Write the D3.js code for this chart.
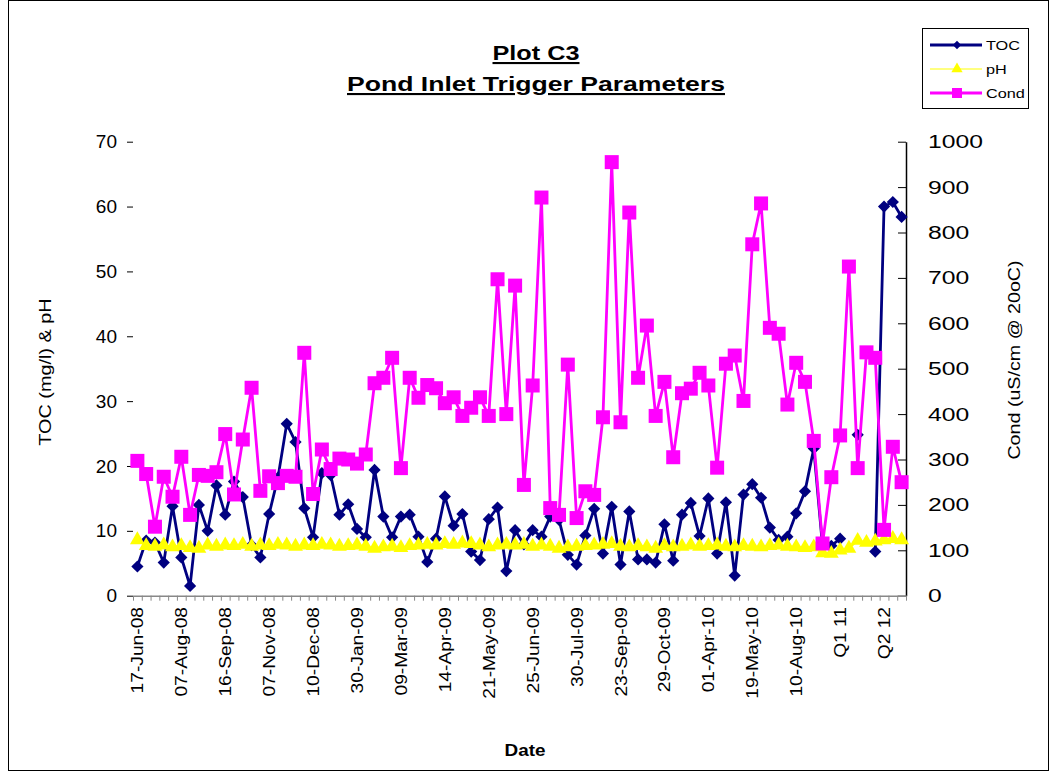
<!DOCTYPE html>
<html>
<head>
<meta charset="utf-8">
<script src="https://cdn.jsdelivr.net/npm/d3@7"></script>
<style>
  body { margin: 0; background: #fff; }
  svg { display: block; font-family: "Liberation Sans", Arial, sans-serif; }
</style>
</head>
<body>
<svg id="chart" width="1056" height="772"></svg>
<script>
// labels shown on the date axis (one every 5 samples)
const tickLabels = ["17-Jun-08","07-Aug-08","16-Sep-08","07-Nov-08","10-Dec-08","30-Jan-09",
  "09-Mar-09","14-Apr-09","21-May-09","25-Jun-09","30-Jul-09","23-Sep-09","29-Oct-09",
  "01-Apr-10","19-May-10","10-Aug-10","Q1 11","Q2 12"]
const labelStep = 5

// TOC (mg/l), left axis
const toc = [4.5,8.5,8.2,5.1,13.8,5.9,1.5,14.0,10.0,17.0,12.5,17.6,15.2,7.8,5.9,12.6,18.2,26.5,23.7,13.5,
  9.0,18.9,18.6,12.5,14.1,10.3,9.0,19.4,12.2,9.0,12.2,12.5,9.1,5.2,8.8,15.3,10.8,12.6,6.8,5.5,
  11.8,13.6,3.8,10.1,7.9,10.1,9.1,12.2,11.7,6.3,4.8,9.3,13.4,6.5,13.7,4.8,13.0,5.6,5.6,5.1,
  11.0,5.4,12.5,14.3,9.2,15.0,6.5,14.4,3.1,15.6,17.2,15.1,10.5,8.6,9.1,12.7,16.1,22.7,7.6,7.7,
  8.8,null,24.8,null,6.8,60.0,60.7,58.4]

// pH, left axis
const ph = [8.6,7.7,7.6,7.8,7.5,7.7,7.4,7.3,7.8,7.6,7.8,7.7,7.9,7.6,7.8,7.7,7.9,7.8,7.6,7.8,
  7.7,7.9,7.8,7.6,7.7,7.8,7.6,7.3,7.5,7.6,7.4,7.7,7.8,7.9,7.8,8.0,7.9,8.1,8.0,7.8,
  7.5,7.8,7.9,7.8,7.9,7.6,7.8,7.6,7.3,7.5,7.6,7.7,7.8,7.9,8.0,7.6,7.5,7.7,7.5,7.3,
  7.7,7.5,7.6,7.8,7.6,7.7,7.8,7.6,7.5,7.7,7.6,7.5,7.7,7.8,7.6,7.5,7.4,7.5,6.6,6.5,
  7.0,7.3,8.5,8.2,8.4,8.6,8.8,8.6]

// conductivity (uS/cm @ 20oC), right axis
const cond = [297,268,152,262,218,306,178,266,264,272,356,223,344,458,231,263,248,264,262,535,
  224,322,279,302,300,291,311,468,480,524,281,480,436,464,457,424,437,396,414,437,
  396,697,400,683,244,463,877,193,178,509,171,230,222,393,955,382,844,480,595,396,
  471,305,446,456,491,463,282,511,529,429,774,864,590,577,421,513,471,341,115,261,
  353,725,281,536,524,145,328,250]

const leftTicks = [0,10,20,30,40,50,60,70]
const rightTicks = [0,100,200,300,400,500,600,700,800,900,1000]

const width = 1056, height = 772
const plotLeft = 133, plotRight = 906, plotTop = 141.7, plotBottom = 595.7
const n = cond.length

const svg = d3.select("#chart")

// outer frame
svg.append("rect").attr("x", 8.5).attr("y", 0.5).attr("width", 1040).attr("height", 770)
  .attr("fill", "#fff").attr("stroke", "#000").attr("stroke-width", 1)

const x = d3.scaleBand().domain(d3.range(n)).range([plotLeft, plotRight])
const xEdge = d3.scaleLinear().domain([0, n]).range([plotLeft, plotRight])
const yL = d3.scaleLinear().domain([0, 70]).range([plotBottom, plotTop])
const yR = d3.scaleLinear().domain([0, 1000]).range([plotBottom, plotTop])
const cx = i => x(i) + x.bandwidth() / 2

// titles (the original font is wide, so stretch the glyphs)
svg.append("text").attr("x", 536).attr("y", 60).attr("text-anchor", "middle")
  .attr("font-size", 21).attr("font-weight", "bold").attr("text-decoration", "underline")
  .attr("textLength", 87).attr("lengthAdjust", "spacingAndGlyphs")
  .text("Plot C3")
svg.append("text").attr("x", 536).attr("y", 91).attr("text-anchor", "middle")
  .attr("font-size", 21).attr("font-weight", "bold").attr("text-decoration", "underline")
  .attr("textLength", 378).attr("lengthAdjust", "spacingAndGlyphs")
  .text("Pond Inlet Trigger Parameters")

// left axis (no line, outward ticks)
const gL = svg.append("g").attr("transform", `translate(${plotLeft},0)`)
  .call(d3.axisLeft(yL).tickValues(leftTicks).tickSize(6).tickPadding(10))
gL.select(".domain").remove()
gL.selectAll("text").attr("font-size", 19).attr("font-family", "Liberation Sans, Arial")
gL.selectAll("line").attr("stroke", "#000")

// right axis (line, inward ticks)
const gR = svg.append("g").attr("transform", `translate(${plotRight},0)`)
  .call(d3.axisRight(yR).tickValues(rightTicks).tickFormat(d3.format("d"))
    .tickSizeInner(-8).tickSizeOuter(0).tickPadding(22))
gR.select(".domain").attr("stroke", "#000").attr("stroke-width", 1.5)
gR.selectAll("text").attr("font-size", 19).attr("font-family", "Liberation Sans, Arial")
  .attr("transform", "translate(22,0) scale(1.3,1) translate(-22,0)")
gR.selectAll("line").attr("stroke", "#000")

// bottom axis: ticks between categories
const gB = svg.append("g").attr("transform", `translate(0,${plotBottom})`)
  .call(d3.axisBottom(xEdge).tickValues(d3.range(n + 1)).tickSizeInner(5).tickSizeOuter(0).tickFormat(""))
gB.select(".domain").attr("stroke", "#888").attr("stroke-width", 1.5)
gB.selectAll("line").attr("stroke", "#888")

// date labels
svg.append("g").selectAll("text").data(tickLabels).join("text")
  .attr("transform", (d, i) => `translate(${cx(i * labelStep) + 6},607) rotate(-90) scale(1.2,1)`)
  .attr("text-anchor", "end").attr("font-size", 16).text(d => d)

// axis titles
svg.append("text").attr("transform", "translate(51,372) rotate(-90) scale(1.24,1)").attr("text-anchor", "middle")
  .attr("font-size", 16).text("TOC (mg/l) & pH")
svg.append("text").attr("transform", "translate(1020,360) rotate(-90) scale(1.23,1)").attr("text-anchor", "middle")
  .attr("font-size", 16).text("Cond (uS/cm @ 20oC)")
svg.append("text").attr("transform", "translate(525,756) scale(1.18,1)").attr("text-anchor", "middle")
  .attr("font-size", 16).attr("font-weight", "bold").text("Date")

// series
const diamond = d3.symbol().type(d3.symbolDiamond2).size(95)
const tri = d3.symbol().type(d3.symbolTriangle).size(95)

const tocLine = d3.line().defined(d => d != null).x((d, i) => cx(i)).y(d => yL(d))
svg.append("path").datum(toc).attr("d", tocLine).attr("fill", "none")
  .attr("stroke", "#000080").attr("stroke-width", 2.8)
svg.append("g").selectAll("path").data(toc.map((v, i) => [i, v]).filter(d => d[1] != null)).join("path")
  .attr("d", diamond).attr("transform", d => `translate(${cx(d[0])},${yL(d[1])})`).attr("fill", "#000080")

const phLine = d3.line().x((d, i) => cx(i)).y(d => yL(d))
svg.append("path").datum(ph).attr("d", phLine).attr("fill", "none")
  .attr("stroke", "#ffff00").attr("stroke-width", 2)
svg.append("g").selectAll("path").data(ph).join("path")
  .attr("d", tri).attr("transform", (d, i) => `translate(${cx(i)},${yL(d)})`).attr("fill", "#ffff00")

const condLine = d3.line().x((d, i) => cx(i)).y(d => yR(d))
svg.append("path").datum(cond).attr("d", condLine).attr("fill", "none")
  .attr("stroke", "#ff00ff").attr("stroke-width", 2.8)
svg.append("g").selectAll("rect").data(cond).join("rect")
  .attr("x", (d, i) => cx(i) - 7).attr("y", d => yR(d) - 7)
  .attr("width", 14).attr("height", 14).attr("fill", "#ff00ff")

// legend
const lg = svg.append("g").attr("transform", "translate(922,28)")
lg.append("rect").attr("x", 0.5).attr("y", 0.5).attr("width", 106).attr("height", 80)
  .attr("fill", "#fff").attr("stroke", "#000")
const legendItems = [
  {name: "TOC", color: "#000080", w: 2.8, mark: "diamond"},
  {name: "pH", color: "#ffff00", w: 1, mark: "tri"},
  {name: "Cond", color: "#ff00ff", w: 2.8, mark: "square"}
]
legendItems.forEach((it, k) => {
  const yy = 17 + k * 24
  lg.append("line").attr("x1", 8).attr("x2", 60).attr("y1", yy).attr("y2", yy)
    .attr("stroke", it.color).attr("stroke-width", it.w)
  if (it.mark === "diamond")
    lg.append("path").attr("d", d3.symbol().type(d3.symbolDiamond2).size(45)()).attr("transform", `translate(35,${yy})`).attr("fill", it.color)
  else if (it.mark === "tri")
    lg.append("path").attr("d", d3.symbol().type(d3.symbolTriangle).size(55)()).attr("transform", `translate(35,${yy})`).attr("fill", it.color)
  else
    lg.append("rect").attr("x", 30).attr("y", yy - 5).attr("width", 10).attr("height", 10).attr("fill", it.color)
  lg.append("text").attr("transform", `translate(64,${yy + 5}) scale(1.25,1)`).attr("font-size", 13).text(it.name)
})
</script>
</body>
</html>
